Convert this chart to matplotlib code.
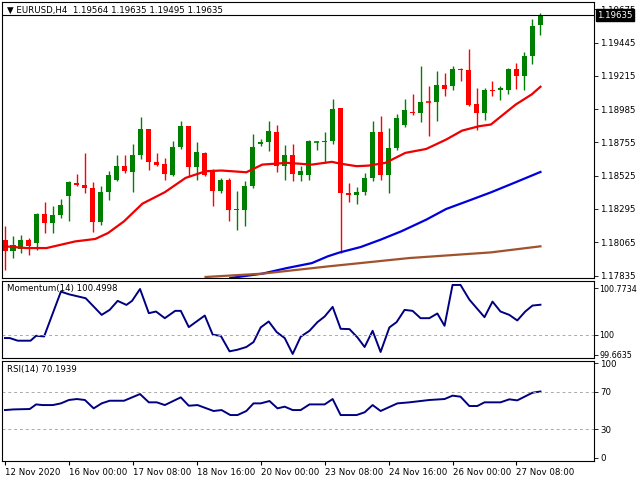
import matplotlib
matplotlib.use("Agg")
import matplotlib.pyplot as plt
import numpy as np

opens  = [1.18083,1.18002,1.18018,1.18083,1.18060,1.18261,1.18198,1.18256,1.18383,1.18475,1.18461,1.18441,1.18203,1.18411,1.18498,1.18595,1.18549,1.18667,1.18851,1.18620,1.18609,1.18533,1.18727,1.18872,1.18584,1.18685,1.18563,1.18417,1.18498,1.18286,1.18291,1.18452,1.18745,1.18757,1.18828,1.18590,1.18671,1.18528,1.18528,1.18757,1.18757,1.18764,1.18992,1.18406,1.18390,1.18411,1.18510,1.18828,1.18533,1.18717,1.18879,1.18967,1.18960,1.19040,1.19033,1.19149,1.19144,1.19260,1.19255,1.19022,1.18960,1.19121,1.19121,1.19121,1.19260,1.19213,1.19352,1.19564]
closes = [1.18002,1.18048,1.18083,1.18037,1.18263,1.18198,1.18256,1.18325,1.18480,1.18461,1.18438,1.18203,1.18413,1.18533,1.18595,1.18558,1.18671,1.18851,1.18620,1.18600,1.18540,1.18727,1.18872,1.18584,1.18690,1.18528,1.18417,1.18498,1.18286,1.18295,1.18457,1.18727,1.18759,1.18837,1.18590,1.18671,1.18537,1.18561,1.18764,1.18759,1.18764,1.18987,1.18406,1.18394,1.18413,1.18510,1.18828,1.18528,1.18717,1.18923,1.18976,1.18960,1.19036,1.19036,1.19149,1.19126,1.19260,1.19253,1.19017,1.18960,1.19121,1.19114,1.19133,1.19260,1.19213,1.19356,1.19559,1.19635]
highs  = [1.18175,1.18106,1.18118,1.18094,1.18268,1.18341,1.18314,1.18364,1.18487,1.18540,1.18683,1.18480,1.18452,1.18556,1.18667,1.18667,1.18745,1.18930,1.18851,1.18683,1.18648,1.18764,1.18900,1.18872,1.18757,1.18690,1.18572,1.18510,1.18510,1.18417,1.18487,1.18814,1.18780,1.18902,1.18879,1.18740,1.18745,1.18595,1.18775,1.18764,1.18826,1.19052,1.18992,1.18475,1.18445,1.18544,1.18902,1.18937,1.18856,1.18955,1.19057,1.19091,1.19287,1.19144,1.19248,1.19236,1.19283,1.19271,1.19403,1.19133,1.19133,1.19179,1.19144,1.19271,1.19306,1.19379,1.19606,1.19650]
lows   = [1.17875,1.17956,1.17991,1.17979,1.18014,1.18129,1.18129,1.18233,1.18210,1.18452,1.18406,1.18134,1.18187,1.18355,1.18487,1.18544,1.18411,1.18641,1.18567,1.18590,1.18496,1.18521,1.18713,1.18521,1.18498,1.18521,1.18314,1.18406,1.18210,1.18152,1.18175,1.18441,1.18729,1.18694,1.18549,1.18498,1.18487,1.18487,1.18498,1.18701,1.18614,1.18745,1.17991,1.18341,1.18330,1.18394,1.18487,1.18498,1.18406,1.18706,1.18860,1.18948,1.18895,1.18803,1.18902,1.19075,1.19117,1.19183,1.19006,1.18840,1.18913,1.19075,1.19047,1.19093,1.19126,1.19121,1.19299,1.19495]

ma_red_x = [0,2.7,5.2,8.8,11.3,12.9,14.9,17.2,20,22.6,25.1,27.1,30.2,32.2,35.3,38.4,40.9,41.9,44,45.5,47.6,50.1,52.7,55.2,57.2,59.3,60.8,63.9,65.9,67]
ma_red_y = [1.18037,1.18025,1.18025,1.18071,1.18088,1.18129,1.18210,1.18332,1.18411,1.18510,1.18556,1.18561,1.18549,1.18602,1.18614,1.18602,1.18621,1.18609,1.18591,1.18595,1.18614,1.18683,1.18710,1.18775,1.18837,1.18867,1.18879,1.19017,1.19087,1.19140]
ma_blue_x = [28.2,32.2,35.3,38.4,40.4,41.9,44.5,47,49.6,52.7,55.2,57.8,60.8,63.9,67]
ma_blue_y = [1.17818,1.17848,1.17887,1.17921,1.17968,1.17995,1.18032,1.18083,1.18141,1.18221,1.18295,1.18348,1.18410,1.18480,1.18551]
ma_brown_x = [25.1,32.2,40.4,50.6,60.8,67]
ma_brown_y = [1.17825,1.17848,1.17898,1.17956,1.17995,1.18037]

mom_x = [0,0.6,1.6,3.2,3.9,4.9,7,8,10.1,12.1,13.1,14.1,15.2,15.9,16.9,18,18.9,20,21.3,22,23,25,26,27,28.1,29.1,30.2,31.1,32,33,34,35,36,37,38.1,39.1,40,41,42,43.1,44.1,45,46,47,48.1,49,50,51,52,53.1,54.1,55,56,57,58.1,59.1,60,61,62,63.1,64.1,65.1,66,67]
mom_y = [99.945,99.945,99.901,99.901,99.983,99.972,100.718,100.674,100.608,100.331,100.414,100.564,100.497,100.564,100.762,100.359,100.387,100.276,100.398,100.398,100.127,100.320,100.0,99.983,99.724,99.751,99.796,99.878,100.122,100.221,100.044,99.945,99.680,99.967,100.066,100.210,100.304,100.464,100.099,100.094,99.956,99.796,100.066,99.713,100.122,100.210,100.414,100.398,100.276,100.276,100.354,100.149,100.829,100.829,100.586,100.431,100.293,100.552,100.387,100.331,100.238,100.387,100.486,100.4998]

rsi_x = [0,1.1,3.1,3.9,4.7,6,7,8,9,10,11.1,12.1,13.1,14.9,16.9,18,19,20,22,23,24.1,26.1,27.1,28.2,29.1,30.2,31.1,32,33.1,34.1,35,36,37,38.1,40,41,42,44,45,46,47,49.1,50.6,53.1,55,56,57,58.1,59.1,60,62,63.1,64.1,66,67]
rsi_y = [50.5,51.2,51.6,56.5,55.8,55.8,57.6,61.2,62.2,61.2,52.3,57.6,60.4,60.4,67.5,58.7,58.7,55.8,64.0,55.1,55.8,49.5,50.5,45.2,45.2,49.5,57.6,57.6,60.1,52.3,54.1,50.5,50.5,56.5,56.5,62.2,45.2,45.2,48.1,55.8,49.5,57.6,58.7,61.2,62.2,65.8,64.7,54.8,54.8,58.7,58.7,61.9,60.8,68.9,70.19]

time_labels = ["12 Nov 2020","16 Nov 00:00","17 Nov 08:00","18 Nov 16:00","20 Nov 00:00","23 Nov 08:00","24 Nov 16:00","26 Nov 00:00","27 Nov 08:00"]
time_pos = [0,8,16,24,32,40,48,56,64]
price_ticks = [1.19675,1.19445,1.19215,1.18985,1.18755,1.18525,1.18295,1.18065,1.17835]

W, H = 640, 480
FS = 6.2
fig = plt.figure(figsize=(6.4, 4.8), dpi=100)
def ax_px(l, t, r, b):
    return fig.add_axes([l/W, 1-b/H, (r-l)/W, (b-t)/H])
ax1 = ax_px(2, 2, 594, 278)
ax2 = ax_px(2, 281, 594, 358)
ax3 = ax_px(2, 361, 594, 461)
xl = (-0.37, 73.7)
green, red = '#008000', '#ff0000'
n = len(opens)
for i in range(n):
    o, c, h, l = opens[i], closes[i], highs[i], lows[i]
    col = green if c >= o else red
    ax1.vlines(i, l, h, color=col, lw=1)
    lo, hi = min(o, c), max(o, c)
    if hi - lo < 0.00004:
        ax1.hlines((o+c)/2, i-0.32, i+0.32, color=col, lw=1.2)
    else:
        ax1.add_patch(plt.Rectangle((i-0.32, lo), 0.64, hi-lo, color=col, lw=0))
ax1.plot(ma_red_x, ma_red_y, color='#ee0000', lw=1.6)
ax1.plot(ma_blue_x, ma_blue_y, color='#0000dd', lw=1.6)
ax1.plot(ma_brown_x, ma_brown_y, color='#a0522d', lw=1.6)
ax1.axhline(closes[-1], color='black', lw=0.8)
ax1.set_ylim(1.17818, 1.19726)
ax1.text(0.008, 0.985, "▼ EURUSD,H4  1.19564 1.19635 1.19495 1.19635", transform=ax1.transAxes,
         fontsize=FS, va='top', ha='left')
ax1.set_yticks(price_ticks)
ax1.set_yticklabels([f"{p:.5f}" for p in price_ticks])
ax1.text(1.005, closes[-1], f"{closes[-1]:.5f}", transform=ax1.get_yaxis_transform(), fontsize=FS,
         color='white', va='center', ha='left', zorder=10,
         bbox=dict(boxstyle='square,pad=0.15', fc='black', ec='black'))

ax2.plot(mom_x, mom_y, color='#000080', lw=1.4)
ax2.axhline(100, color='#aaaaaa', lw=0.7, ls=(0, (3, 3)))
ax2.set_ylim(99.613, 100.895)
ax2.set_yticks([100.7734, 100, 99.6635])
ax2.set_yticklabels(["100.7734", "100", "99.6635"])
ax2.text(0.008, 0.96, "Momentum(14) 100.4998", transform=ax2.transAxes, fontsize=FS, va='top')

ax3.plot(rsi_x, rsi_y, color='#000080', lw=1.4)
for lv in (70, 30):
    ax3.axhline(lv, color='#aaaaaa', lw=0.7, ls=(0, (3, 3)))
ax3.set_ylim(-3.6, 102.6)
ax3.set_yticks([100, 70, 30, 0])
ax3.text(0.008, 0.96, "RSI(14) 70.1939", transform=ax3.transAxes, fontsize=FS, va='top')

for ax in (ax1, ax2, ax3):
    ax.set_xlim(*xl)
    ax.yaxis.tick_right()
    ax.tick_params(axis='y', labelsize=FS, length=3, width=0.6, pad=1.5)
    ax.tick_params(axis='x', length=0)
    ax.set_xticks([])
    for s in ax.spines.values():
        s.set_linewidth(0.8)
ax2.tick_params(axis='y', labelsize=5.8, pad=1)
ax3.set_xticks(time_pos)
ax3.set_xticklabels(time_labels, fontsize=FS, ha='left')
ax3.tick_params(axis='x', length=3, pad=2, direction='out')
fig.savefig("out.png", dpi=100)
